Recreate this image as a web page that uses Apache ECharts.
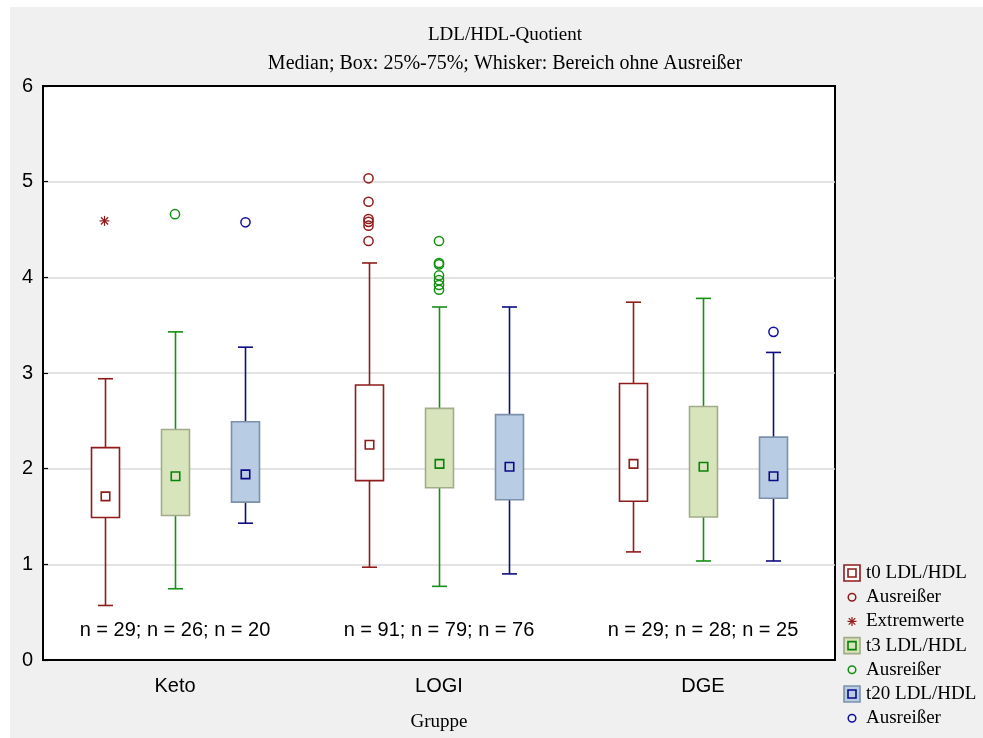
<!DOCTYPE html>
<html>
<head>
<meta charset="utf-8">
<script src="https://cdn.jsdelivr.net/npm/echarts@6/dist/echarts.min.js"></script>
<style>
  html, body { margin: 0; padding: 0; background: #ffffff; }
  #frame { position: absolute; left: 10px; top: 7px; right: 0; bottom: 0; background: #f0f0f0; }
  #chart { position: absolute; left: 0; top: 0; width: 983px; height: 738px; }
</style>
</head>
<body>
<div id="frame"></div>
<div id="chart"></div>
<script>
// Groups on the x axis
const categories = ['Keto', 'LOGI', 'DGE'];
const yTicks = [0, 1, 2, 3, 4, 5, 6];

// Box statistics per group: [lower whisker, Q1, median, Q3, upper whisker]
const t0Stats  = [[0.57, 1.49, 1.71, 2.22, 2.94], [0.97, 1.875, 2.25, 2.875, 4.15], [1.13, 1.66, 2.05, 2.89, 3.74]];
const t3Stats  = [[0.745, 1.51, 1.92, 2.41, 3.43], [0.77, 1.80, 2.05, 2.63, 3.69], [1.035, 1.495, 2.02, 2.65, 3.78]];
const t20Stats = [[1.43, 1.65, 1.94, 2.49, 3.27], [0.90, 1.675, 2.02, 2.565, 3.69], [1.035, 1.69, 1.92, 2.33, 3.215]];

// Outliers and extreme values: [group, value]
const t0Outliers  = [['LOGI', 5.035], ['LOGI', 4.79], ['LOGI', 4.61], ['LOGI', 4.58], ['LOGI', 4.54], ['LOGI', 4.38]];
const t0Extremes  = [['Keto', 4.59]];
const t3Outliers  = [['Keto', 4.66], ['LOGI', 4.38], ['LOGI', 4.15], ['LOGI', 4.135], ['LOGI', 4.02], ['LOGI', 3.97], ['LOGI', 3.92], ['LOGI', 3.87]];
const t20Outliers = [['Keto', 4.575], ['DGE', 3.43]];

// Sample sizes per group
const t0Counts  = [29, 91, 29];
const t3Counts  = [26, 79, 28];
const t20Counts = [20, 76, 25];

const seriesNames = ['t0 LDL/HDL', 't3 LDL/HDL', 't20 LDL/HDL'];
const outlierName = 'Ausreißer';
const extremeName = 'Extremwerte';

// Drawing styles
const SANS = '"Liberation Sans", Arial, sans-serif';
const SERIF = '"Liberation Serif", "Times New Roman", serif';
const styles = {
  t0:  { line: '#8f1b1b', boxFill: '#ffffff', boxStroke: '#8f1b1b', medFill: '#ffffff', medStroke: '#8f1b1b', dot: '#8f1b1b' },
  t3:  { line: '#168f16', boxFill: '#d8e4bc', boxStroke: '#a2ac88', medFill: '#d8e4bc', medStroke: '#0a820a', dot: '#129012' },
  t20: { line: '#0d0d80', boxFill: '#b8cce4', boxStroke: '#7c90ab', medFill: '#b8cce4', medStroke: '#0a0a86', dot: '#1010a0' }
};
const SLOT = 0.267;      // side offset of the outer boxes, fraction of the band
const BOX_W = 0.106;     // box width, fraction of the band
const CAP_W = 0.057;     // whisker cap width, fraction of the band
const MED = 8.5;         // median marker size in px

const toIdx = pairs => pairs.map(([c, v]) => [categories.indexOf(c), v]);

function boxRenderer(slot, st) {
  return function (params, api) {
    const c = api.value(0);
    const band = api.size([1, 0])[0];
    const x = Math.round(api.coord([c, 0])[0] + slot * band) + 0.5;
    const y = i => api.coord([c, api.value(i)])[1];
    const yLo = y(1), yQ1 = y(2), yMed = y(3), yQ3 = y(4), yHi = y(5);
    const bw = band * BOX_W, cw = band * CAP_W;
    const lineStyle = { stroke: st.line, lineWidth: 1.6, fill: null };
    return {
      type: 'group',
      children: [
        { type: 'line', shape: { x1: x, y1: yQ3, x2: x, y2: yHi }, style: lineStyle },
        { type: 'line', shape: { x1: x, y1: yQ1, x2: x, y2: yLo }, style: lineStyle },
        { type: 'line', shape: { x1: x - cw / 2, y1: yHi, x2: x + cw / 2, y2: yHi }, style: lineStyle },
        { type: 'line', shape: { x1: x - cw / 2, y1: yLo, x2: x + cw / 2, y2: yLo }, style: lineStyle },
        { type: 'rect', shape: { x: x - bw / 2, y: yQ3, width: bw, height: yQ1 - yQ3 },
          style: { fill: st.boxFill, stroke: st.boxStroke, lineWidth: 1.6 } },
        { type: 'rect', shape: { x: x - MED / 2, y: yMed - MED / 2, width: MED, height: MED },
          style: { fill: st.medFill, stroke: st.medStroke, lineWidth: 1.6 } }
      ]
    };
  };
}

function dotRenderer(slot, color) {
  return function (params, api) {
    const c = api.value(0);
    const band = api.size([1, 0])[0];
    const p = api.coord([c, api.value(1)]);
    return { type: 'circle', shape: { cx: p[0] + slot * band, cy: p[1], r: 4.6 },
             style: { fill: 'none', stroke: color, lineWidth: 1.5 } };
  };
}

function starShape(cx, cy, r, color) {
  const d = r * 0.72;
  const s = { stroke: color, lineWidth: 1.2 };
  return [
    { type: 'line', shape: { x1: cx, y1: cy - r, x2: cx, y2: cy + r }, style: s },
    { type: 'line', shape: { x1: cx - r, y1: cy, x2: cx + r, y2: cy }, style: s },
    { type: 'line', shape: { x1: cx - d, y1: cy - d, x2: cx + d, y2: cy + d }, style: s },
    { type: 'line', shape: { x1: cx - d, y1: cy + d, x2: cx + d, y2: cy - d }, style: s }
  ];
}

function starRenderer(slot, color) {
  return function (params, api) {
    const c = api.value(0);
    const band = api.size([1, 0])[0];
    const p = api.coord([c, api.value(1)]);
    return { type: 'group', children: starShape(p[0] + slot * band, p[1], 5, color) };
  };
}

// "n = ..; n = ..; n = .." under each group
const countLevel = 0.31;
function countRenderer(params, api) {
  const i = params.dataIndex;
  const p = api.coord([api.value(0), api.value(1)]);
  return {
    type: 'text',
    x: p[0], y: p[1],
    style: {
      text: 'n = ' + t0Counts[i] + '; n = ' + t3Counts[i] + '; n = ' + t20Counts[i],
      font: '20px ' + SANS, fill: '#000', align: 'center', verticalAlign: 'middle'
    }
  };
}

// Legend built from graphic elements
const legendItems = [
  { kind: 'box', st: styles.t0, text: seriesNames[0] },
  { kind: 'dot', color: styles.t0.dot, text: outlierName },
  { kind: 'star', color: styles.t0.dot, text: extremeName },
  { kind: 'box', st: styles.t3, text: seriesNames[1] },
  { kind: 'dot', color: styles.t3.dot, text: outlierName },
  { kind: 'box', st: styles.t20, text: seriesNames[2] },
  { kind: 'dot', color: styles.t20.dot, text: outlierName }
];
const LEG_X = 852, LEG_Y = 573, LEG_STEP = 24.2;
const legendGraphics = [];
legendItems.forEach((it, k) => {
  const cy = LEG_Y + k * LEG_STEP;
  if (it.kind === 'box') {
    legendGraphics.push({ type: 'rect', shape: { x: LEG_X - 8, y: cy - 8, width: 16, height: 16 },
      style: { fill: it.st.boxFill, stroke: it.st.boxStroke, lineWidth: 1.6 } });
    legendGraphics.push({ type: 'rect', shape: { x: LEG_X - 4, y: cy - 4, width: 8, height: 8 },
      style: { fill: it.st.medFill, stroke: it.st.medStroke, lineWidth: 1.6 } });
  } else if (it.kind === 'dot') {
    legendGraphics.push({ type: 'circle', shape: { cx: LEG_X, cy: cy, r: 3.8 },
      style: { fill: 'none', stroke: it.color, lineWidth: 1.5 } });
  } else {
    starShape(LEG_X, cy, 4.5, it.color).forEach(g => legendGraphics.push(g));
  }
  legendGraphics.push({ type: 'text', x: 866, y: cy,
    style: { text: it.text, font: '19px ' + SERIF, fill: '#000', align: 'left', verticalAlign: 'middle' } });
});

const chart = echarts.init(document.getElementById('chart'), null, { renderer: 'canvas' });
chart.setOption({
  backgroundColor: 'transparent',
  animation: false,
  title: [
    { text: 'LDL/HDL-Quotient', left: 500, top: 21, textAlign: 'center',
      textStyle: { fontFamily: SERIF, fontSize: 19, fontWeight: 'normal', color: '#000' } },
    { text: 'Median; Box: 25%-75%; Whisker: Bereich ohne Ausreißer', left: 500, top: 49, textAlign: 'center',
      textStyle: { fontFamily: SERIF, fontSize: 20, fontWeight: 'normal', color: '#000' } }
  ],
  grid: { left: 43, top: 86, right: 148, bottom: 78, show: true, backgroundColor: '#ffffff',
          borderColor: '#000', borderWidth: 2, containLabel: false, outerBoundsMode: 'none' },
  xAxis: [
    { type: 'category', data: categories, position: 'bottom', boundaryGap: true,
      axisLine: { lineStyle: { color: '#000', width: 2 } },
      axisTick: { alignWithLabel: true, inside: true, length: 6, lineStyle: { color: '#000', width: 1.2 } },
      axisLabel: { fontFamily: SANS, fontSize: 20, color: '#000', margin: 16 },
      name: 'Gruppe', nameLocation: 'middle', nameGap: 53,
      nameTextStyle: { fontFamily: SERIF, fontSize: 19, color: '#000' } },
    { type: 'category', data: categories, position: 'top', boundaryGap: true,
      axisLine: { lineStyle: { color: '#000', width: 2 } },
      axisTick: { alignWithLabel: true, inside: true, length: 6, lineStyle: { color: '#000', width: 1.2 } },
      axisLabel: { show: false } }
  ],
  yAxis: { type: 'value', min: yTicks[0], max: yTicks[yTicks.length - 1], interval: 1,
    axisLine: { show: true, lineStyle: { color: '#000', width: 2 } },
    axisTick: { show: true, inside: true, length: 5, lineStyle: { color: '#000', width: 1.2 } },
    axisLabel: { fontFamily: SANS, fontSize: 20, color: '#000', margin: 10 },
    splitLine: { show: true, lineStyle: { color: '#dadada', width: 1.5 } } },
  graphic: legendGraphics,
  series: [
    { name: seriesNames[0], type: 'custom', data: t0Stats.map((s, i) => [i, ...s]),
      renderItem: boxRenderer(-SLOT, styles.t0), encode: { x: 0, y: [1, 2, 3, 4, 5] }, z: 3 },
    { name: seriesNames[1], type: 'custom', data: t3Stats.map((s, i) => [i, ...s]),
      renderItem: boxRenderer(0, styles.t3), encode: { x: 0, y: [1, 2, 3, 4, 5] }, z: 3 },
    { name: seriesNames[2], type: 'custom', data: t20Stats.map((s, i) => [i, ...s]),
      renderItem: boxRenderer(SLOT, styles.t20), encode: { x: 0, y: [1, 2, 3, 4, 5] }, z: 3 },
    { name: outlierName, type: 'custom', data: toIdx(t0Outliers), renderItem: dotRenderer(-SLOT, styles.t0.dot), z: 4 },
    { name: extremeName, type: 'custom', data: toIdx(t0Extremes), renderItem: starRenderer(-SLOT, styles.t0.dot), z: 4 },
    { name: outlierName + ' t3', type: 'custom', data: toIdx(t3Outliers), renderItem: dotRenderer(0, styles.t3.dot), z: 4 },
    { name: outlierName + ' t20', type: 'custom', data: toIdx(t20Outliers), renderItem: dotRenderer(SLOT, styles.t20.dot), z: 4 },
    { name: 'n', type: 'custom', data: categories.map((c, i) => [i, countLevel]), renderItem: countRenderer, z: 4 }
  ]
});
</script>
</body>
</html>
